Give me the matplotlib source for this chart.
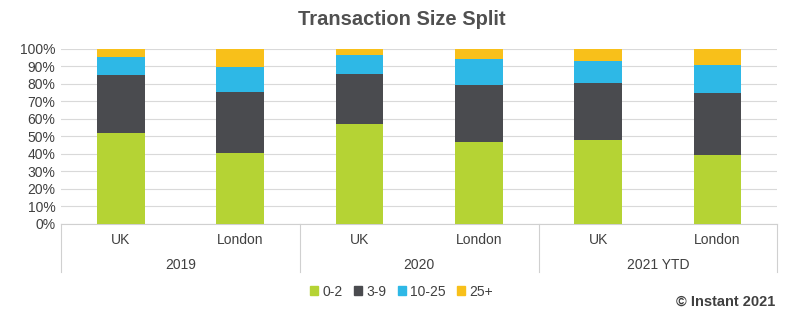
import numpy as np
import matplotlib.pyplot as plt
from matplotlib.patches import Patch

plt.rcParams['font.family'] = ['Liberation Sans Narrow', 'Liberation Sans', 'DejaVu Sans']

cities = ['UK', 'London', 'UK', 'London', 'UK', 'London']
years = ['2019', '2020', '2021 YTD']
bands = ['0-2', '3-9', '10-25', '25+']
colors = ['#B5D334', '#4A4B4F', '#2EB8E6', '#F8C01A']

share_0_2 = [52.0, 40.6, 57.1, 46.9, 48.2, 39.6]
share_3_9 = [33.1, 34.8, 28.8, 32.5, 32.4, 35.3]
share_10_25 = [10.5, 14.5, 10.9, 14.9, 12.5, 16.1]
share_25p = [4.4, 10.1, 3.2, 5.7, 6.9, 9.0]
series = [share_0_2, share_3_9, share_10_25, share_25p]

fig = plt.figure(figsize=(8.03, 3.26), dpi=100)
ax = fig.add_axes([0.076, 0.313, 0.892, 0.537])

x = np.arange(len(cities))
bottom = np.zeros(len(cities))
for vals, c, lab in zip(series, colors, bands):
    ax.bar(x, vals, 0.4, bottom=bottom, color=c, label=lab, zorder=3)
    bottom += np.array(vals)

ax.set_xlim(-0.5, len(cities) - 0.5)
ax.set_ylim(0, 100)
ax.set_yticks(np.arange(0, 101, 10))
ax.set_yticklabels([f'{v}%' for v in range(0, 101, 10)], fontsize=10, color='#404040')
ax.grid(axis='y', color='#D9D9D9', lw=0.8, zorder=0)
ax.tick_params(axis='y', length=0, pad=4)
ax.set_xticks([])
for s in ['top', 'right', 'left']:
    ax.spines[s].set_visible(False)
ax.spines['bottom'].set_color('#D0D0D0')

# two-level category axis
tr = ax.get_xaxis_transform()
for i, c in enumerate(cities):
    ax.text(i, -0.09, c, transform=tr, ha='center', va='center', fontsize=10, color='#404040')
for j, y in enumerate(years):
    ax.text(2 * j + 0.5, -0.235, y, transform=tr, ha='center', va='center', fontsize=10, color='#404040')
for k in range(len(years) + 1):
    ax.plot([2 * k - 0.5] * 2, [0, -0.275], transform=tr, color='#D0D0D0', lw=0.8, clip_on=False)

fig.text(0.5, 0.94, 'Transaction Size Split', ha='center', va='center',
         fontsize=14.5, fontweight='bold', color='#505050')

handles = [Patch(color=c, label=b) for c, b in zip(colors, bands)]
fig.legend(handles=handles, loc='center', bbox_to_anchor=(0.5, 0.105), ncol=4, frameon=False,
           fontsize=10, handlelength=0.6, handleheight=0.6, handletextpad=0.3, columnspacing=0.8,
           labelcolor='#404040')

fig.text(0.966, 0.074, '© Instant 2021', ha='right', va='center', fontsize=10.5,
         fontweight='semibold', color='#404040')

fig.savefig('out.png', dpi=100)
